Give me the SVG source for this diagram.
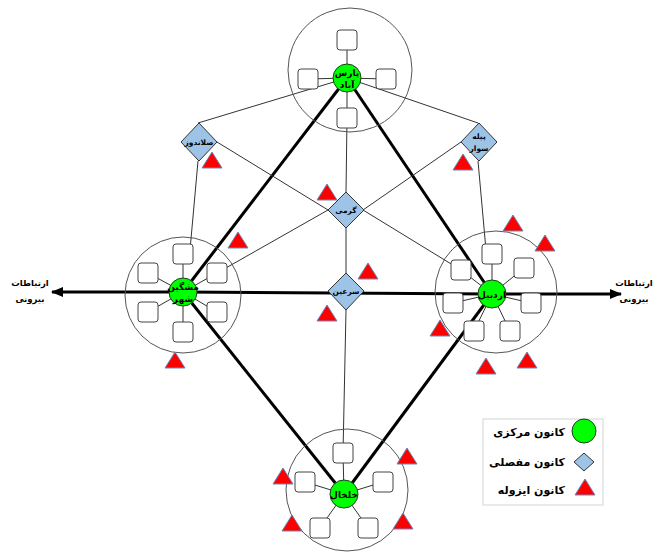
<svg xmlns="http://www.w3.org/2000/svg" xmlns:xlink="http://www.w3.org/1999/xlink" width="654" height="552" viewBox="0 0 654 552">
<style>
.ring{fill:none;stroke:#555;stroke-width:1}
.thin{stroke:#333;stroke-width:1;fill:none}
.thick{stroke:#000;stroke-width:3;fill:none}
.sq{fill:#fff;stroke:#444;stroke-width:1}
.hub{fill:#00ff00;stroke:#1e3d1e;stroke-width:1}
.dia{fill:#9dc3e6;stroke:#333;stroke-width:1}
.tri{fill:#ff0000;stroke:#6a86b8;stroke-width:1}
text{font-family:"DejaVu Sans",sans-serif;font-weight:bold;fill:#000;text-anchor:middle}
.hl{font-size:9px}
.dl{font-size:7.5px}
.ll{font-size:11px;text-anchor:end}
.el{font-size:8.5px}
</style>
<defs>
<marker id="arr" markerUnits="userSpaceOnUse" markerWidth="12" markerHeight="10" refX="11" refY="5" orient="auto">
<path d="M0,0 L12,5 L0,10 Z" fill="#000"/>
</marker>
<path id="t" class="tri" d="M0,-8 L10,8 L-10,8 Z"/>
<rect id="s" class="sq" x="-10" y="-10" width="20" height="20" rx="3"/>
</defs>
<rect width="654" height="552" fill="#fff"/>

<g id="connectors">
<line class="thick" x1="183" y1="292" x2="52" y2="292" marker-end="url(#arr)"/>
<line class="thick" x1="183" y1="292" x2="492" y2="294"/>
<line class="thick" x1="492" y1="294" x2="621" y2="294" marker-end="url(#arr)"/>
<line class="thick" x1="347" y1="78" x2="183" y2="292"/>
<line class="thick" x1="347" y1="78" x2="492" y2="294"/>
<line class="thick" x1="183" y1="292" x2="344" y2="494"/>
<line class="thick" x1="492" y1="294" x2="344" y2="494"/>
<line class="thin" x1="198" y1="123" x2="347" y2="78"/>
<line class="thin" x1="478" y1="123" x2="347" y2="78"/>
<line class="thin" x1="217" y1="142" x2="328" y2="210"/>
<line class="thin" x1="461" y1="142" x2="363" y2="210"/>
<line class="thin" x1="363" y1="210" x2="461" y2="270"/>
<line class="thin" x1="328" y1="210" x2="217" y2="273"/>
<line class="thin" x1="198" y1="161" x2="190" y2="250"/>
<line class="thin" x1="478" y1="161" x2="486" y2="250"/>
<line class="thin" x1="347" y1="118" x2="346" y2="192"/>
<line class="thin" x1="346" y1="228" x2="346" y2="273"/>
<line class="thin" x1="346" y1="310" x2="343" y2="453"/>
<path class="thin" d="M347,78 L347,40 M347,78 L308,79 M347,78 L386,79 M347,78 L347,118"/>
<path class="thin" d="M183,292 L183,254 M183,292 L148,273 M183,292 L217,273 M183,292 L148,312 M183,292 L217,312 M183,292 L183,332"/>
<path class="thin" d="M492,294 L492,254 M492,294 L461,270 M492,294 L524,268 M492,294 L453,303 M492,294 L531,303 M492,294 L474,331 M492,294 L510,331"/>
<path class="thin" d="M344,494 L343,453 M344,494 L305,482 M344,494 L383,482 M344,494 L320,528 M344,494 L368,528"/>
</g>

<g id="node-parsabad">
<circle class="ring" cx="350" cy="70" r="62"/>
<use href="#s" x="347" y="40"/><use href="#s" x="308" y="79"/><use href="#s" x="386" y="79"/><use href="#s" x="347" y="118"/>
<circle class="hub" cx="347" cy="78" r="14"/>
<text class="hl" x="347" y="76">پارس</text>
<text class="hl" x="347" y="88">آباد</text>
</g>

<g id="node-meshginshahr">
<circle class="ring" cx="183" cy="295" r="58"/>
<use href="#s" x="183" y="254"/><use href="#s" x="148" y="273"/><use href="#s" x="217" y="273"/><use href="#s" x="148" y="312"/><use href="#s" x="217" y="312"/><use href="#s" x="183" y="332"/>
<circle class="hub" cx="183" cy="292" r="14"/>
<text class="hl" x="183" y="290">مشگین</text>
<text class="hl" x="183" y="302">شهر</text>
</g>

<g id="node-ardabil">
<circle class="ring" cx="496" cy="292" r="61"/>
<use href="#s" x="492" y="254"/><use href="#s" x="461" y="270"/><use href="#s" x="524" y="268"/><use href="#s" x="453" y="303"/><use href="#s" x="531" y="303"/><use href="#s" x="474" y="331"/><use href="#s" x="510" y="331"/>
<circle class="hub" cx="492" cy="294" r="14"/>
<text class="hl" x="492" y="298">اردبیل</text>
</g>

<g id="node-khalkhal">
<circle class="ring" cx="347" cy="490" r="61"/>
<use href="#s" x="343" y="453"/><use href="#s" x="305" y="482"/><use href="#s" x="383" y="482"/><use href="#s" x="320" y="528"/><use href="#s" x="368" y="528"/>
<circle class="hub" cx="344" cy="494" r="14"/>
<text class="hl" x="344" y="498">خلخال</text>
</g>

<g id="node-salandoz">
<path class="dia" d="M199,123 L217,142 L199,161 L181,142 Z"/>
<text class="dl" x="199" y="145">صلاندوز</text>
</g>

<g id="node-pilehsavar">
<path class="dia" d="M479,123 L497,142 L479,161 L461,142 Z"/>
<text class="dl" x="479" y="139">پیله</text>
<text class="dl" x="479" y="151">سوار</text>
</g>

<g id="node-germi">
<path class="dia" d="M346,192 L364,210 L346,228 L328,210 Z"/>
<text class="dl" x="346" y="213">گرمی</text>
</g>

<g id="node-sarein">
<path class="dia" d="M346,273 L364,291 L346,310 L328,291 Z"/>
<text class="dl" x="346" y="294">سرعین</text>
</g>

<g id="isolated">
<use href="#t" x="212" y="160"/>
<use href="#t" x="463" y="162"/>
<use href="#t" x="327" y="192"/>
<use href="#t" x="368" y="271"/>
<use href="#t" x="327" y="313"/>
<use href="#t" x="238" y="240"/>
<use href="#t" x="175" y="360"/>
<use href="#t" x="513" y="223"/>
<use href="#t" x="545" y="243"/>
<use href="#t" x="440" y="328"/>
<use href="#t" x="486" y="366"/>
<use href="#t" x="527" y="360"/>
<use href="#t" x="283" y="476"/>
<use href="#t" x="292" y="523"/>
<use href="#t" x="407" y="456"/>
<use href="#t" x="403" y="521"/>
</g>

<g id="label-left">
<text class="el" x="30" y="286">ارتباطات</text>
<text class="el" x="30" y="302">بیرونی</text>
</g>
<g id="label-right">
<text class="el" x="634" y="286">ارتباطات</text>
<text class="el" x="634" y="302">بیرونی</text>
</g>

<g id="legend">
<rect x="483" y="419" width="120" height="86" fill="#fff" stroke="#d4d4d4" stroke-width="1"/>
<circle class="hub" cx="584" cy="431" r="12"/>
<text class="ll" x="565" y="436">کانون مرکزی</text>
<path class="dia" d="M584,453 L594,462 L584,471 L574,462 Z"/>
<text class="ll" x="565" y="466">کانون مفصلی</text>
<use href="#t" x="585" y="487"/>
<text class="ll" x="565" y="494">کانون ایزوله</text>
</g>
</svg>
